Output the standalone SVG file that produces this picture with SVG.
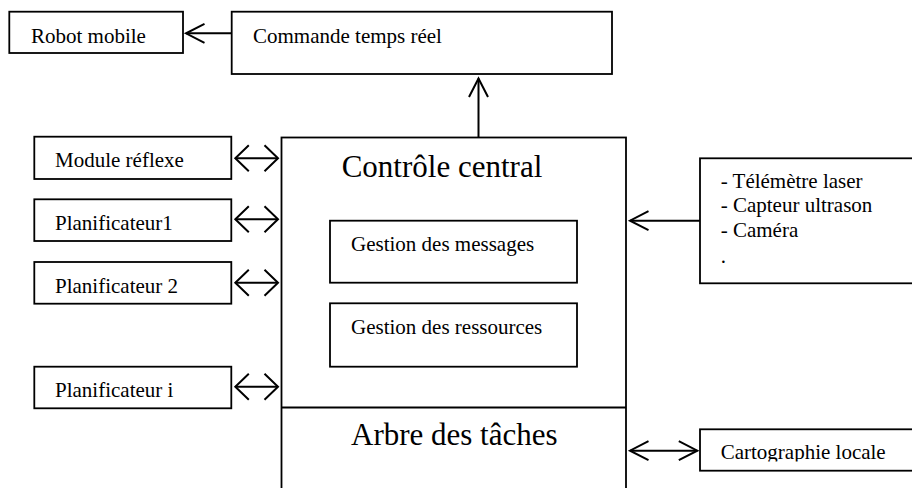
<svg xmlns="http://www.w3.org/2000/svg" width="912" height="488" viewBox="0 0 912 488">
  <style>
    .box { fill: #fff; stroke: #000; stroke-width: 1.8; }
    .lbl { font-family: "Liberation Serif", "Times New Roman", serif; font-size: 21px; fill: #000; }
    .big { font-family: "Liberation Serif", "Times New Roman", serif; font-size: 31px; fill: #000; }
    .wire { fill: none; stroke: #000; stroke-width: 2; }
  </style>
  <defs>
    <marker id="head" viewBox="-22 -12 24 24" refX="0" refY="0" markerWidth="24" markerHeight="24" markerUnits="userSpaceOnUse" orient="auto-start-reverse" overflow="visible">
      <path d="M-18.5,-9.5 L0,0 L-18.5,9.5" fill="none" stroke="#000" stroke-width="2"/>
    </marker>
    <marker id="headSteep" viewBox="-16 -16 18 32" refX="0" refY="0" markerWidth="18" markerHeight="32" markerUnits="userSpaceOnUse" orient="auto-start-reverse" overflow="visible">
      <path d="M-13.5,-13 L0,0 L-13.5,13" fill="none" stroke="#000" stroke-width="2"/>
    </marker>
    <clipPath id="cartoClip">
      <rect x="700" y="429" width="212" height="32.5"/>
    </clipPath>
  </defs>

  <!-- modules -->
  <g id="robot">
    <rect class="box" x="9.3" y="11.7" width="173.7" height="41.3"/>
    <text class="lbl" x="31" y="42.7">Robot mobile</text>
  </g>
  <g id="commande">
    <rect class="box" x="231.7" y="11.7" width="380.3" height="62.3"/>
    <text class="lbl" x="253" y="42.7">Commande temps réel</text>
  </g>
  <g id="module-reflexe">
    <rect class="box" x="34.3" y="136.7" width="197" height="42.3"/>
    <text class="lbl" x="55" y="166.7">Module réflexe</text>
  </g>
  <g id="planificateur1">
    <rect class="box" x="34.3" y="199.3" width="197" height="41.7"/>
    <text class="lbl" x="55" y="230">Planificateur1</text>
  </g>
  <g id="planificateur2">
    <rect class="box" x="34.3" y="262" width="197" height="41.7"/>
    <text class="lbl" x="55" y="292.7">Planificateur 2</text>
  </g>
  <g id="planificateur-i">
    <rect class="box" x="34.3" y="366.7" width="197" height="41.6"/>
    <text class="lbl" x="55" y="396.7">Planificateur i</text>
  </g>

  <g id="controle-central">
    <rect class="box" x="281.5" y="137.5" width="344.5" height="360"/>
    <text class="big" x="341.7" y="176.7">Contrôle central</text>
    <g id="gestion-messages">
      <rect class="box" x="330" y="220.7" width="247" height="62"/>
      <text class="lbl" x="351" y="250.7">Gestion des messages</text>
    </g>
    <g id="gestion-ressources">
      <rect class="box" x="330" y="303.3" width="247" height="63.4"/>
      <text class="lbl" x="351" y="334">Gestion des ressources</text>
    </g>
  </g>
  <g id="arbre-taches">
    <line class="wire" x1="281.5" y1="407.5" x2="626" y2="407.5" stroke-width="1.8"/>
    <text class="big" x="351" y="445">Arbre des tâches</text>
  </g>

  <g id="capteurs">
    <rect class="box" x="700" y="158.3" width="220" height="125"/>
    <text class="lbl" x="720.7" y="187.7">- Télémètre laser</text>
    <text class="lbl" x="720.7" y="212.3">- Capteur ultrason</text>
    <text class="lbl" x="720.7" y="236.7">- Caméra</text>
    <text class="lbl" x="720.7" y="263">.</text>
  </g>
  <g id="cartographie">
    <rect class="box" x="700" y="429.3" width="220" height="41.4"/>
    <text class="lbl" x="720.7" y="459" clip-path="url(#cartoClip)">Cartographie locale</text>
  </g>

  <!-- connectors -->
  <g id="connectors">
    <path class="wire" d="M231.7,33.3 L186,33.3" marker-end="url(#head)"/>
    <path class="wire" d="M478.5,137.5 L478.5,78.5" marker-end="url(#head)"/>
    <path class="wire" d="M235.3,158.3 L278,158.3" marker-start="url(#headSteep)" marker-end="url(#headSteep)"/>
    <path class="wire" d="M235.3,219.3 L278,219.3" marker-start="url(#headSteep)" marker-end="url(#headSteep)"/>
    <path class="wire" d="M235.3,282.7 L278,282.7" marker-start="url(#headSteep)" marker-end="url(#headSteep)"/>
    <path class="wire" d="M235.3,386.7 L278,386.7" marker-start="url(#headSteep)" marker-end="url(#headSteep)"/>
    <path class="wire" d="M700,220.7 L630,220.7" marker-end="url(#head)"/>
    <path class="wire" d="M630,450.7 L697.3,450.7" marker-start="url(#head)" marker-end="url(#head)"/>
  </g>
</svg>
